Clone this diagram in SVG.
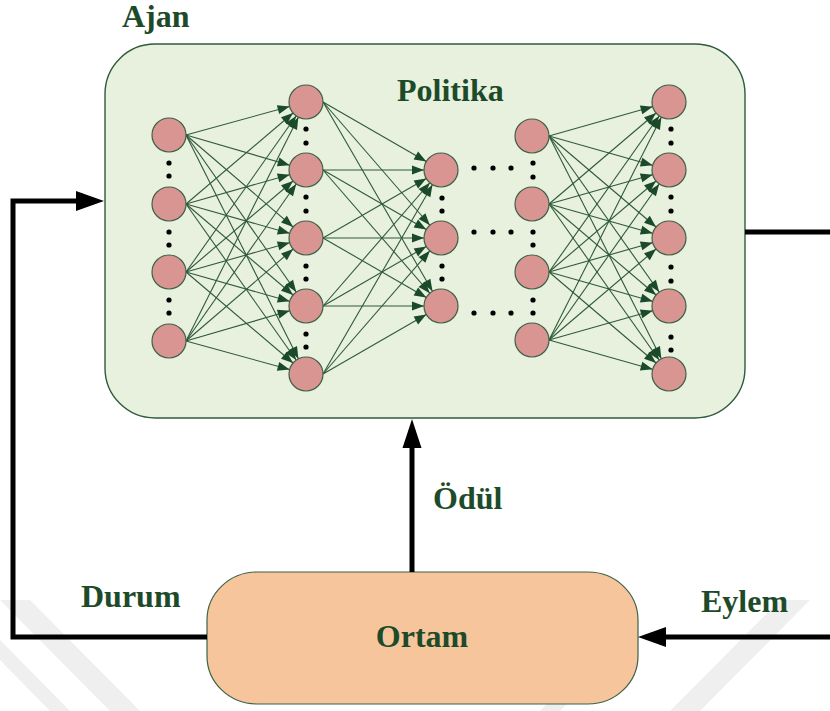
<svg xmlns="http://www.w3.org/2000/svg" width="830" height="711" viewBox="0 0 830 711">
<style>
.t{font-family:"Liberation Serif","Times New Roman",serif;font-weight:bold;font-size:32px;fill:#1d4b2a}
.e{stroke:#2e5a3a;stroke-width:1.1;fill:none;marker-end:url(#ah)}
.n{fill:#d99591;stroke:#3d6146;stroke-width:1.2}
.d{fill:#000}
.k{stroke:#000;stroke-width:5;fill:none}
.wm{fill:#efefef}
</style>
<defs>
<marker id="ah" markerUnits="userSpaceOnUse" orient="auto" refX="0" refY="0" markerWidth="10" markerHeight="10" overflow="visible">
<path d="M-29,-4.5 L-17,0 L-29,4.5 Z" fill="#1a4a2a"/>
</marker>
</defs>
<rect width="830" height="711" fill="#fff"/>
<g id="watermark">
<polygon class="wm" points="0,600 30,600 140,711 110,711"/>
<polygon class="wm" points="0,660 0,640 70,711 50,711"/>
<polygon class="wm" points="780,600 810,600 700,711 670,711"/>
<polygon class="wm" points="560,690 580,690 560,711 540,711"/>
</g>
<g id="agent">
<rect x="105" y="44" width="640" height="374" rx="50" ry="50" fill="#e8f0de" stroke="#2f5b3d" stroke-width="1.4"/>
<text class="t" x="122" y="27">Ajan</text>
<text class="t" x="397" y="101">Politika</text>
</g>
<g id="edges">
<line class="e" x1="186" y1="135" x2="306" y2="102"/>
<line class="e" x1="186" y1="135" x2="306" y2="170"/>
<line class="e" x1="186" y1="135" x2="306" y2="238"/>
<line class="e" x1="186" y1="135" x2="306" y2="306"/>
<line class="e" x1="186" y1="135" x2="306" y2="374"/>
<line class="e" x1="186" y1="204" x2="306" y2="102"/>
<line class="e" x1="186" y1="204" x2="306" y2="170"/>
<line class="e" x1="186" y1="204" x2="306" y2="238"/>
<line class="e" x1="186" y1="204" x2="306" y2="306"/>
<line class="e" x1="186" y1="204" x2="306" y2="374"/>
<line class="e" x1="186" y1="272" x2="306" y2="102"/>
<line class="e" x1="186" y1="272" x2="306" y2="170"/>
<line class="e" x1="186" y1="272" x2="306" y2="238"/>
<line class="e" x1="186" y1="272" x2="306" y2="306"/>
<line class="e" x1="186" y1="272" x2="306" y2="374"/>
<line class="e" x1="186" y1="341" x2="306" y2="102"/>
<line class="e" x1="186" y1="341" x2="306" y2="170"/>
<line class="e" x1="186" y1="341" x2="306" y2="238"/>
<line class="e" x1="186" y1="341" x2="306" y2="306"/>
<line class="e" x1="186" y1="341" x2="306" y2="374"/>
<line class="e" x1="323" y1="102" x2="441" y2="170"/>
<line class="e" x1="323" y1="102" x2="441" y2="238"/>
<line class="e" x1="323" y1="102" x2="441" y2="306"/>
<line class="e" x1="323" y1="170" x2="441" y2="170"/>
<line class="e" x1="323" y1="170" x2="441" y2="238"/>
<line class="e" x1="323" y1="170" x2="441" y2="306"/>
<line class="e" x1="323" y1="238" x2="441" y2="170"/>
<line class="e" x1="323" y1="238" x2="441" y2="238"/>
<line class="e" x1="323" y1="238" x2="441" y2="306"/>
<line class="e" x1="323" y1="306" x2="441" y2="170"/>
<line class="e" x1="323" y1="306" x2="441" y2="238"/>
<line class="e" x1="323" y1="306" x2="441" y2="306"/>
<line class="e" x1="323" y1="374" x2="441" y2="170"/>
<line class="e" x1="323" y1="374" x2="441" y2="238"/>
<line class="e" x1="323" y1="374" x2="441" y2="306"/>
<line class="e" x1="549" y1="136" x2="669" y2="102"/>
<line class="e" x1="549" y1="136" x2="669" y2="170"/>
<line class="e" x1="549" y1="136" x2="669" y2="238"/>
<line class="e" x1="549" y1="136" x2="669" y2="306"/>
<line class="e" x1="549" y1="136" x2="669" y2="374"/>
<line class="e" x1="549" y1="204" x2="669" y2="102"/>
<line class="e" x1="549" y1="204" x2="669" y2="170"/>
<line class="e" x1="549" y1="204" x2="669" y2="238"/>
<line class="e" x1="549" y1="204" x2="669" y2="306"/>
<line class="e" x1="549" y1="204" x2="669" y2="374"/>
<line class="e" x1="549" y1="272" x2="669" y2="102"/>
<line class="e" x1="549" y1="272" x2="669" y2="170"/>
<line class="e" x1="549" y1="272" x2="669" y2="238"/>
<line class="e" x1="549" y1="272" x2="669" y2="306"/>
<line class="e" x1="549" y1="272" x2="669" y2="374"/>
<line class="e" x1="549" y1="340" x2="669" y2="102"/>
<line class="e" x1="549" y1="340" x2="669" y2="170"/>
<line class="e" x1="549" y1="340" x2="669" y2="238"/>
<line class="e" x1="549" y1="340" x2="669" y2="306"/>
<line class="e" x1="549" y1="340" x2="669" y2="374"/>
</g>
<g id="layer1">
<circle id="n1a" class="n" cx="169" cy="135" r="17"/>
<circle id="n1b" class="n" cx="169" cy="204" r="17"/>
<circle id="n1c" class="n" cx="169" cy="272" r="17"/>
<circle id="n1d" class="n" cx="169" cy="341" r="17"/>
</g>
<g id="layer2">
<circle id="n2a" class="n" cx="306" cy="102" r="17"/>
<circle id="n2b" class="n" cx="306" cy="170" r="17"/>
<circle id="n2c" class="n" cx="306" cy="238" r="17"/>
<circle id="n2d" class="n" cx="306" cy="306" r="17"/>
<circle id="n2e" class="n" cx="306" cy="374" r="17"/>
</g>
<g id="layer3">
<circle id="n3a" class="n" cx="441" cy="170" r="17"/>
<circle id="n3b" class="n" cx="441" cy="238" r="17"/>
<circle id="n3c" class="n" cx="441" cy="306" r="17"/>
</g>
<g id="layer4">
<circle id="n4a" class="n" cx="532" cy="136" r="17"/>
<circle id="n4b" class="n" cx="532" cy="204" r="17"/>
<circle id="n4c" class="n" cx="532" cy="272" r="17"/>
<circle id="n4d" class="n" cx="532" cy="340" r="17"/>
</g>
<g id="layer5">
<circle id="n5a" class="n" cx="669" cy="102" r="17"/>
<circle id="n5b" class="n" cx="669" cy="170" r="17"/>
<circle id="n5c" class="n" cx="669" cy="238" r="17"/>
<circle id="n5d" class="n" cx="669" cy="306" r="17"/>
<circle id="n5e" class="n" cx="669" cy="374" r="17"/>
</g>
<g id="dots">
<circle class="d" cx="169" cy="163" r="2.6"/><circle class="d" cx="169" cy="176" r="2.6"/>
<circle class="d" cx="169" cy="232" r="2.6"/><circle class="d" cx="169" cy="245" r="2.6"/>
<circle class="d" cx="169" cy="300" r="2.6"/><circle class="d" cx="169" cy="313" r="2.6"/>
<circle class="d" cx="306" cy="129" r="2.6"/><circle class="d" cx="306" cy="143" r="2.6"/>
<circle class="d" cx="306" cy="197" r="2.6"/><circle class="d" cx="306" cy="211" r="2.6"/>
<circle class="d" cx="306" cy="266" r="2.6"/><circle class="d" cx="306" cy="279" r="2.6"/>
<circle class="d" cx="306" cy="334" r="2.6"/><circle class="d" cx="306" cy="347" r="2.6"/>
<circle class="d" cx="442" cy="198" r="2.6"/><circle class="d" cx="442" cy="211" r="2.6"/>
<circle class="d" cx="442" cy="266" r="2.6"/><circle class="d" cx="442" cy="279" r="2.6"/>
<circle class="d" cx="474" cy="168" r="2.6"/><circle class="d" cx="493" cy="168" r="2.6"/><circle class="d" cx="511" cy="168" r="2.6"/>
<circle class="d" cx="474" cy="232" r="2.6"/><circle class="d" cx="493" cy="232" r="2.6"/><circle class="d" cx="511" cy="232" r="2.6"/>
<circle class="d" cx="474" cy="313" r="2.6"/><circle class="d" cx="493" cy="313" r="2.6"/><circle class="d" cx="511" cy="313" r="2.6"/>
<circle class="d" cx="533" cy="163" r="2.6"/><circle class="d" cx="533" cy="177" r="2.6"/>
<circle class="d" cx="533" cy="232" r="2.6"/><circle class="d" cx="533" cy="245" r="2.6"/>
<circle class="d" cx="533" cy="300" r="2.6"/><circle class="d" cx="533" cy="313" r="2.6"/>
<circle class="d" cx="671" cy="129" r="2.6"/><circle class="d" cx="671" cy="143" r="2.6"/>
<circle class="d" cx="671" cy="197" r="2.6"/><circle class="d" cx="671" cy="211" r="2.6"/>
<circle class="d" cx="671" cy="267" r="2.6"/><circle class="d" cx="671" cy="281" r="2.6"/>
<circle class="d" cx="671" cy="337" r="2.6"/><circle class="d" cx="671" cy="350" r="2.6"/>
</g>
<g id="environment">
<rect x="207" y="572" width="431" height="132" rx="50" ry="48" fill="#f7c59b" stroke="#3d6146" stroke-width="1.2"/>
<text class="t" x="422" y="647" text-anchor="middle">Ortam</text>
</g>
<g id="connectors">
<path class="k" d="M207,637 H13 V201 H78" stroke-linejoin="miter"/>
<polygon points="104,201 76,191 76,211" fill="#000"/>
<path class="k" d="M745,232 H830"/>
<path class="k" d="M830,637 H664"/>
<polygon points="638,637 666,627 666,647" fill="#000"/>
<path class="k" d="M412,572 V446"/>
<polygon points="412,419 402.5,448 421.5,448" fill="#000"/>
<text class="t" x="433" y="509">Ödül</text>
<text class="t" x="81" y="607">Durum</text>
<text class="t" x="701" y="612">Eylem</text>
</g>
</svg>
